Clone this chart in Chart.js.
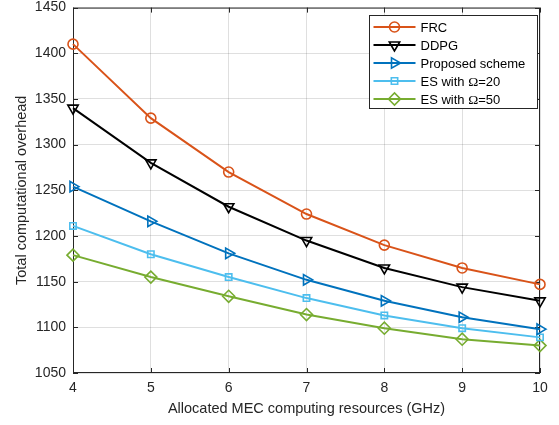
<!DOCTYPE html>
<html>
<head>
<meta charset="utf-8">
<script src="https://cdn.jsdelivr.net/npm/chart.js@4/dist/chart.umd.min.js"></script>
<style>
  html, body { margin: 0; padding: 0; background: #fff; }
  #wrap { width: 559px; height: 425px; }
</style>
</head>
<body>
<div id="wrap"><canvas id="overheadChart" width="559" height="425"></canvas></div>
<script>
const ghz = [4, 5, 6, 7, 8, 9, 10];
const frc = [1410, 1329, 1270, 1224, 1190, 1165, 1147];
const ddpg = [1340, 1280, 1232, 1195, 1165, 1144, 1129];
const proposed = [1254, 1216, 1181, 1152, 1129, 1111, 1098];
const es20 = [1211, 1180, 1155, 1132, 1113, 1099, 1089];
const es50 = [1179, 1155, 1134, 1114, 1099, 1087, 1080];

const yMin = 1050, yMax = 1450, yStep = 50;
const axisColor = '#262626';
const sans = '"Liberation Sans", Arial, Helvetica, sans-serif';

function series(label, values, color, pointStyle, rotation, radius) {
  return {
    label,
    data: values.map((v, i) => ({ x: ghz[i], y: v })),
    borderColor: color,
    backgroundColor: 'rgba(0,0,0,0)',
    borderWidth: 2,
    pointStyle,
    pointRotation: rotation,
    pointRadius: radius,
    pointBorderWidth: 1.6,
    pointBorderColor: color,
    pointBackgroundColor: 'rgba(0,0,0,0)',
    tension: 0,
    clip: false
  };
}

// box around the plot with inward tick marks on all four sides
const axesBox = {
  id: 'axesBox',
  beforeDatasetsDraw(chart) {
    const { ctx, chartArea: a, scales } = chart;
    ctx.save();
    ctx.strokeStyle = axisColor;
    ctx.lineWidth = 1;
    ctx.strokeRect(a.left + 0.5, a.top + 0.5, a.right - a.left - 1, a.bottom - a.top - 1);
    const len = 5;
    ctx.beginPath();
    scales.x.ticks.forEach(t => {
      const x = Math.round(scales.x.getPixelForValue(t.value)) + 0.5;
      ctx.moveTo(x, a.bottom); ctx.lineTo(x, a.bottom - len);
      ctx.moveTo(x, a.top); ctx.lineTo(x, a.top + len);
    });
    scales.y.ticks.forEach(t => {
      const y = Math.round(scales.y.getPixelForValue(t.value)) + 0.5;
      ctx.moveTo(a.left, y); ctx.lineTo(a.left + len, y);
      ctx.moveTo(a.right, y); ctx.lineTo(a.right - len, y);
    });
    ctx.stroke();
    ctx.restore();
  }
};

// legend with a line segment and marker per entry, Ω set in serif
const lineLegend = {
  id: 'lineLegend',
  afterDraw(chart) {
    const { ctx } = chart;
    const box = { x: 369.5, y: 15.5, w: 168, h: 93 };
    const rowH = 18;
    ctx.save();
    ctx.fillStyle = '#fff';
    ctx.fillRect(box.x, box.y, box.w, box.h);
    ctx.strokeStyle = axisColor;
    ctx.lineWidth = 1;
    ctx.strokeRect(box.x, box.y, box.w, box.h);
    chart.data.datasets.forEach((ds, i) => {
      const y = box.y + 11.5 + i * rowH;
      ctx.strokeStyle = ds.borderColor;
      ctx.lineWidth = 2;
      ctx.beginPath();
      ctx.moveTo(box.x + 4, y);
      ctx.lineTo(box.x + 46, y);
      ctx.stroke();
      // hollow marker, like the plotted points
      ctx.lineWidth = ds.pointBorderWidth;
      ctx.fillStyle = 'rgba(0,0,0,0)';
      Chart.helpers.drawPoint(ctx, {
        pointStyle: ds.pointStyle,
        rotation: ds.pointRotation,
        radius: ds.pointRadius,
        borderWidth: ds.pointBorderWidth
      }, box.x + 25, y);
      ctx.fillStyle = '#000';
      ctx.textBaseline = 'middle';
      ctx.textAlign = 'left';
      let tx = box.x + 51;
      ds.label.split(/(Ω)/).forEach(part => {
        if (!part) return;
        ctx.font = part === 'Ω' ? '13.5px "Liberation Serif", serif' : '13px ' + sans;
        ctx.fillText(part, tx, y + 1);
        tx += ctx.measureText(part).width;
      });
    });
    ctx.restore();
  }
};

// fixed axis sizes so the plot box sits where it should
function fixY(scale) { scale.width = 73; scale.paddingTop = 0; scale.paddingBottom = 0; }
function fixX(scale) { scale.height = 52; scale.paddingLeft = 0; scale.paddingRight = 0; }

new Chart(document.getElementById('overheadChart').getContext('2d'), {
  type: 'line',
  data: {
    datasets: [
      series('FRC', frc, '#D95319', 'circle', 0, 5),
      series('DDPG', ddpg, '#000000', 'triangle', 180, 6),
      series('Proposed scheme', proposed, '#0072BD', 'triangle', 90, 6),
      series('ES with Ω=20', es20, '#4DBEEE', 'rect', 0, 4.5),
      series('ES with Ω=50', es50, '#77AC30', 'rectRot', 0, 6)
    ]
  },
  options: {
    responsive: false,
    animation: false,
    layout: { padding: { top: 5, right: 19, bottom: 0, left: 0 } },
    plugins: { legend: { display: false }, tooltip: { enabled: false } },
    scales: {
      x: {
        type: 'linear',
        min: 4,
        max: 10,
        afterFit: fixX,
        ticks: { stepSize: 1, padding: 7, color: axisColor, font: { family: sans, size: 14 },
          callback: v => String(v) },
        grid: { color: 'rgba(38,38,38,0.15)', drawTicks: false },
        border: { display: false },
        title: {
          display: true,
          text: 'Allocated MEC computing resources (GHz)',
          color: axisColor,
          font: { family: sans, size: 14.5 },
          padding: { top: 0, bottom: 7 }
        }
      },
      y: {
        min: yMin,
        max: yMax,
        afterFit: fixY,
        ticks: { stepSize: yStep, padding: 7, color: axisColor, font: { family: sans, size: 14 },
          callback: v => String(v) },
        grid: { color: 'rgba(38,38,38,0.15)', drawTicks: false },
        border: { display: false },
        title: {
          display: true,
          text: 'Total computational overhead',
          color: axisColor,
          font: { family: sans, size: 14.5 },
          padding: { top: 13, bottom: 0 }
        }
      }
    }
  },
  plugins: [axesBox, lineLegend]
});
</script>
</body>
</html>
